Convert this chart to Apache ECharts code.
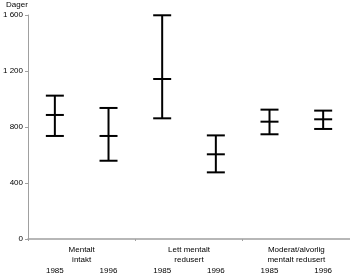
<!DOCTYPE html>
<html><head><meta charset="utf-8">
<script src="https://cdn.jsdelivr.net/npm/echarts@6/dist/echarts.min.js"></script>
<style>html,body{margin:0;padding:0;background:#fff}#c{width:350px;height:276px}</style>
</head><body><div id="c"></div>
<script>
var years = ['1985','1996','1985','1996','1985','1996'];
var groups = ['Mentalt\nintakt','Lett mentalt\nredusert','Moderat/alvorlig\nmentalt redusert'];
var lowVals  = [736, 559, 862, 476, 748, 786];
var midVals  = [886, 736, 1143, 605, 838, 855];
var highVals = [1024, 936, 1598, 740, 924, 917];
var yTicks = [0, 400, 800, 1200, 1600];

var data = years.map(function(y,i){ return [i, lowVals[i], midVals[i], highVals[i]]; });
var font = 'Liberation Sans, Arial, sans-serif';
var chart = echarts.init(document.getElementById('c'));
chart.setOption({
  animation:false,
  grid:{left:23,right:0,top:15,bottom:37},
  xAxis:[{
    type:'category', data:years, position:'bottom',
    axisLine:{show:false}, axisTick:{show:false}, splitLine:{show:false},
    axisLabel:{color:'#000',fontSize:8,fontFamily:font,margin:28}
  },{
    type:'category', data:groups, position:'bottom',
    axisLine:{show:true,lineStyle:{color:'#a0a0a0',width:1.5}},
    axisTick:{show:true,length:2,lineStyle:{color:'#a0a0a0'}},
    splitLine:{show:false},
    axisLabel:{color:'#000',fontSize:8,fontFamily:font,margin:6,lineHeight:10}
  }],
  yAxis:{
    type:'value', min:0, max:1600, interval:400,
    name:'Dager', nameLocation:'end', nameGap:6,
    nameTextStyle:{color:'#000',fontSize:8,fontFamily:font,align:'left',padding:[0,0,0,-22]},
    axisLine:{show:true,lineStyle:{color:'#a0a0a0',width:1}},
    axisTick:{show:true,length:3,lineStyle:{color:'#a0a0a0'}},
    splitLine:{show:false},
    axisLabel:{color:'#000',fontSize:8,fontFamily:font,margin:5,
      formatter:function(v){ return yTicks.indexOf(v)>=0 ? String(v).replace(/\B(?=(\d{3})+(?!\d))/g,' ') : ''; }}
  },
  series:[{
    type:'custom', xAxisIndex:0,
    renderItem:function(params, api){
      var x = api.value(0);
      var pl = api.coord([x, api.value(1)]);
      var pm = api.coord([x, api.value(2)]);
      var ph = api.coord([x, api.value(3)]);
      var hw = 9;
      var st = {stroke:'#000', lineWidth:2};
      return {type:'group', children:[
        {type:'line', shape:{x1:ph[0],y1:ph[1],x2:pl[0],y2:pl[1]}, style:st},
        {type:'line', shape:{x1:ph[0]-hw,y1:ph[1],x2:ph[0]+hw,y2:ph[1]}, style:st},
        {type:'line', shape:{x1:pm[0]-hw,y1:pm[1],x2:pm[0]+hw,y2:pm[1]}, style:st},
        {type:'line', shape:{x1:pl[0]-hw,y1:pl[1],x2:pl[0]+hw,y2:pl[1]}, style:st}
      ]};
    },
    encode:{x:0,y:[1,2,3]},
    data:data
  }]
});
</script></body></html>
